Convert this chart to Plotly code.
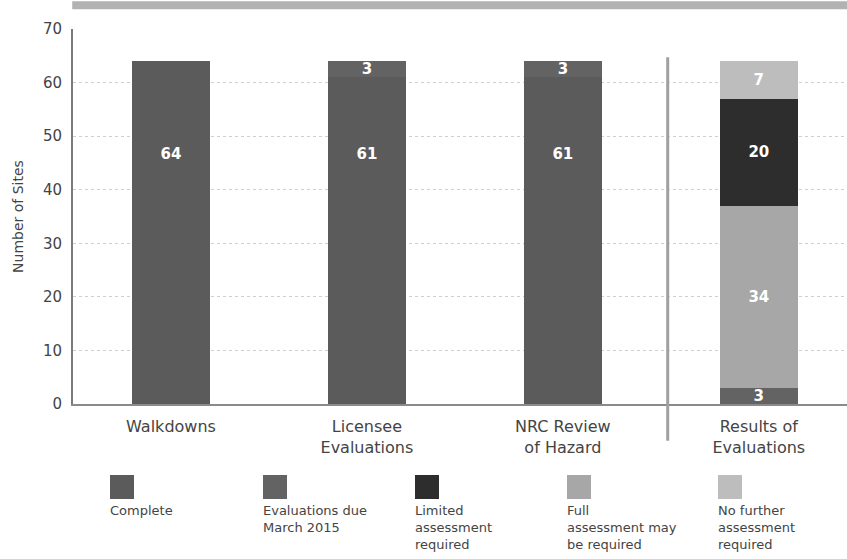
import plotly.graph_objects as go

categories = ["Walkdowns", "Licensee<br>Evaluations", "NRC Review<br>of Hazard", "Results of<br>Evaluations"]
complete = [64, 61, 61, 0]
evaluations_due = [0, 3, 3, 3]
full_assessment = [0, 0, 0, 34]
limited_assessment = [0, 0, 0, 20]
no_further = [0, 0, 0, 7]
complete_label_y = [46.5, 46.5, 46.5, None]

legend_names = ["Complete", "Evaluations due<br>March 2015", "Limited<br>assessment<br>required",
                "Full<br>assessment may<br>be required", "No further<br>assessment<br>required"]

C_COMPLETE = "#5b5b5b"
C_DUE = "#636363"
C_LIMITED = "#2d2d2d"
C_FULL = "#a7a7a7"
C_NOFURTHER = "#bdbdbd"

xs = list(range(len(categories)))
FONT = "DejaVu Sans"
TXT = "#444444"
LABEL_FONT = dict(color="white", size=15, family=FONT, weight="bold")

def seg_text(vals):
    return [str(v) if v else "" for v in vals]

fig = go.Figure()
bar_common = dict(width=0.4, textposition="inside", insidetextanchor="middle",
                  textangle=0, constraintext="none",
                  textfont=LABEL_FONT,
                  marker_line_width=0, showlegend=False, cliponaxis=False)

fig.add_bar(x=xs, y=complete, marker_color=C_COMPLETE, text=[""] * 4, **bar_common)
fig.add_bar(x=xs, y=evaluations_due, marker_color=C_DUE, text=seg_text(evaluations_due), **bar_common)
fig.add_bar(x=xs, y=full_assessment, marker_color=C_FULL, text=seg_text(full_assessment), **bar_common)
fig.add_bar(x=xs, y=limited_assessment, marker_color=C_LIMITED, text=seg_text(limited_assessment), **bar_common)
fig.add_bar(x=xs, y=no_further, marker_color=C_NOFURTHER, text=seg_text(no_further), **bar_common)

# labels for the "Complete" segments (placed at a common height, as in the original)
fig.add_scatter(x=xs, y=complete_label_y, mode="text",
                text=[str(v) if v else "" for v in complete],
                textfont=LABEL_FONT,
                showlegend=False, hoverinfo="skip")

fig.update_layout(
    barmode="stack",
    width=847, height=559,
    margin=dict(l=73, r=0, t=29, b=155),
    plot_bgcolor="white", paper_bgcolor="white",
    font=dict(family=FONT, color=TXT),
    showlegend=False,
)

fig.update_xaxes(
    tickmode="array", tickvals=xs, ticktext=categories,
    range=[-0.5, 3.45],
    showline=True, linecolor="#8a8a8a", linewidth=1.5,
    showgrid=False, ticks="", ticklabelstandoff=7,
    tickfont=dict(size=16, color=TXT, family=FONT),
)
fig.update_yaxes(
    range=[0, 70], dtick=10, tick0=0,
    showline=True, linecolor="#7a7a7a", linewidth=2,
    showgrid=True, gridcolor="#cfcfcf", griddash="dot", gridwidth=1,
    zeroline=False, ticks="", ticklabelstandoff=6,
    tickfont=dict(size=15, color=TXT, family=FONT),
    title=dict(text="Number of Sites", font=dict(size=14, color=TXT, family=FONT), standoff=16),
)

shapes = []
# top banner
shapes.append(dict(type="rect", xref="paper", yref="paper", x0=-0.001, x1=1.0, y0=1.053, y1=1.074,
                   fillcolor="#b2b2b2", line_width=0, layer="above"))
# separator before "Results of Evaluations"
shapes.append(dict(type="line", xref="x", yref="paper", x0=2.535, x1=2.535, y0=-0.098, y1=0.925,
                   line=dict(color="#a0a0a0", width=3)))

annotations = []
legend_colors = [C_COMPLETE, C_DUE, C_LIMITED, C_FULL, C_NOFURTHER]
legend_px = [110, 263, 415, 567, 718]
for name, col, px in zip(legend_names, legend_colors, legend_px):
    x0 = (px - 73) / 774
    x1 = (px + 24 - 73) / 774
    shapes.append(dict(type="rect", xref="paper", yref="paper", x0=x0, x1=x1,
                       y0=(404 - 475) / 375, y1=(404 - 499) / 375,
                       fillcolor=col, line_width=0))
    annotations.append(dict(xref="paper", yref="paper", x=x0 - 0.002, y=(404 - 501) / 375,
                            xanchor="left", yanchor="top", align="left", showarrow=False,
                            text=name, font=dict(size=13, color=TXT, family=FONT)))

fig.update_layout(shapes=shapes, annotations=annotations)

# remove the browser's default 8px body margin so the figure fills the window exactly
fig.write_html("out.html", config={"displayModeBar": False},
               post_script="document.body.style.margin='0';")
